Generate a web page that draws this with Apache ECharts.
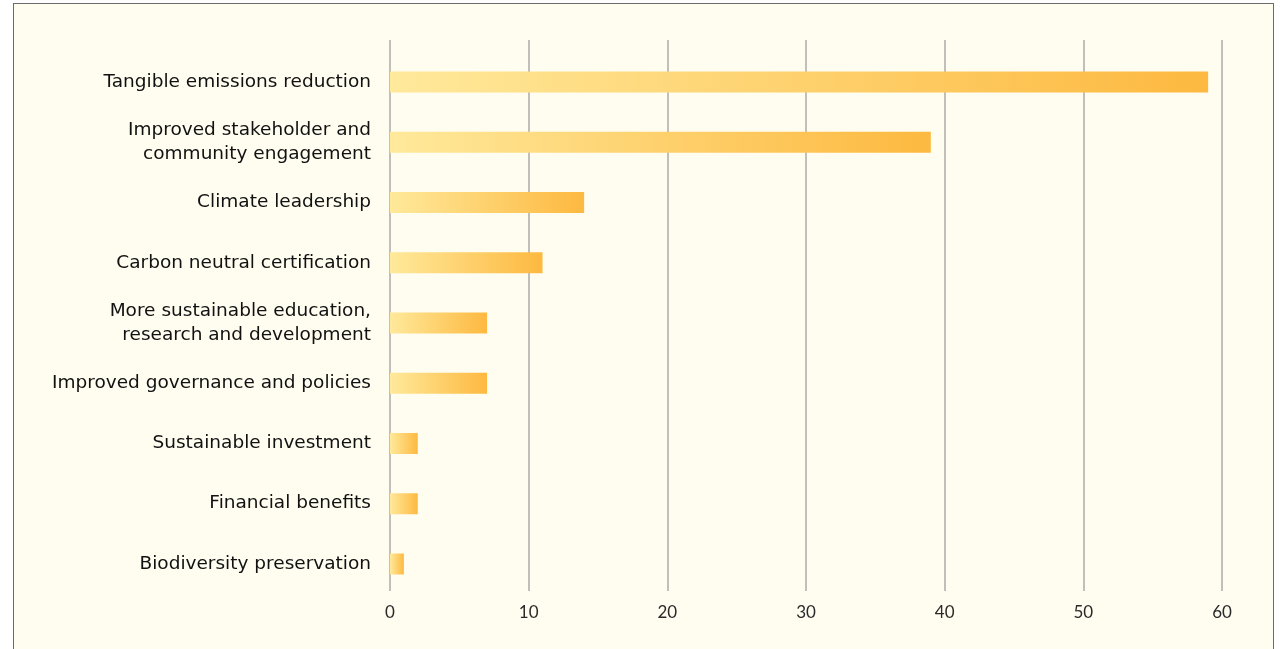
<!DOCTYPE html>
<html><head><meta charset="utf-8">
<script src="https://cdn.jsdelivr.net/npm/echarts@6/dist/echarts.min.js"></script>
<style>
html,body{margin:0;padding:0;background:#ffffff;}
#frame{position:absolute;left:13px;top:3px;width:1261px;height:660px;border:1px solid #6b6b6b;background:#fffcf0;box-sizing:border-box;}
#chart{position:absolute;left:0;top:0;width:1281px;height:649px;}
</style></head>
<body>
<div id="frame"></div>
<div id="chart"></div>
<script>
const categories = [
  "Tangible emissions reduction",
  "Improved stakeholder and\ncommunity engagement",
  "Climate leadership",
  "Carbon neutral certification",
  "More sustainable education,\nresearch and development",
  "Improved governance and policies",
  "Sustainable investment",
  "Financial benefits",
  "Biodiversity preservation"
];
const values = [59, 39, 14, 11, 7, 7, 2, 2, 1];
const xTicks = [0, 10, 20, 30, 40, 50, 60];

const chart = echarts.init(document.getElementById('chart'), null, {renderer:'canvas'});
chart.setOption({
  backgroundColor: 'transparent',
  grid: [
    {left: 390, right: 59, top: 40, bottom: 58},
    {left: 390, right: 59, top: 52, bottom: 55}
  ],
  xAxis: [
    {gridIndex:0, type:'value', min:xTicks[0], max:xTicks[xTicks.length-1], interval:10,
     axisLine:{show:false}, axisTick:{show:false},
     splitLine:{show:true, lineStyle:{color:'#ababab', width:1.5}},
     axisLabel:{color:'#2a2a2a', fontSize:17, fontFamily:'Lato, sans-serif', fontWeight:'normal', margin:13}},
    {gridIndex:1, type:'value', min:xTicks[0], max:xTicks[xTicks.length-1], show:false}
  ],
  yAxis: [
    {gridIndex:0, type:'category', data:categories, show:false},
    {gridIndex:1, type:'category', data:categories, inverse:true,
     axisLine:{show:false}, axisTick:{show:false},
     axisLabel:{color:'#111', fontSize:18.5, fontFamily:'"DejaVu Sans", sans-serif', fontWeight:'normal', margin:19, lineHeight:24, align:'right'}}
  ],
  series: [{
    type:'bar', xAxisIndex:1, yAxisIndex:1, data:values, barWidth:21,
    itemStyle:{color: new echarts.graphic.LinearGradient(0,0,1,0,[
      {offset:0, color:'#ffe99b'},
      {offset:1, color:'#fdb940'}
    ])}
  }]
});
</script>
</body></html>
